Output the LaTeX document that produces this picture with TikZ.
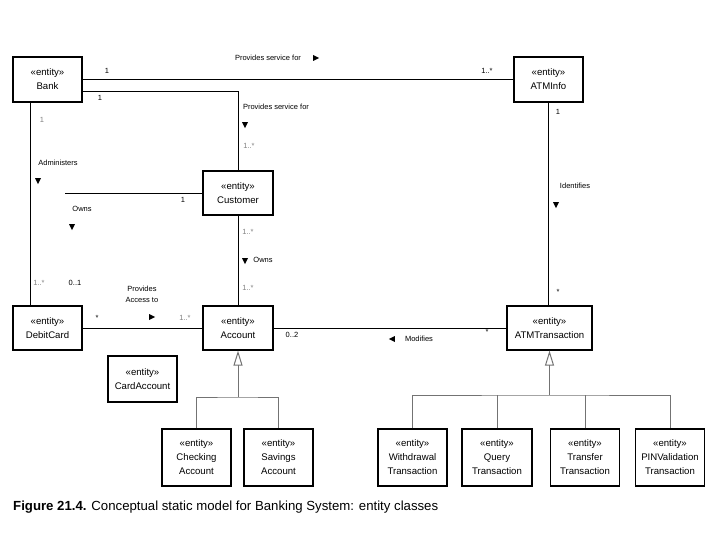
\documentclass[tikz,border=0pt]{standalone}
\usepackage{fontspec}
\setmainfont{Liberation Sans}
\usepackage{tikz}
\usetikzlibrary{shapes.geometric, arrows.meta}
\tikzstyle{entity} = [rectangle, draw=black, line width=1.2pt, minimum width=69pt, minimum height=45pt, inner sep=1pt, align=center, font=\fontsize{9.6}{14}\selectfont]
\tikzstyle{subentity} = [entity, minimum height=57pt]
\tikzstyle{assoc} = [line width=0.8pt]
\tikzstyle{gen} = [line width=1pt, draw=black!55]
\tikzstyle{gentip} = [-{Triangle[open,length=15pt,width=9pt]}]
\tikzstyle{lbl} = [inner sep=0pt, font=\fontsize{7.5}{11}\selectfont, align=center]
\tikzstyle{faint} = [lbl, text=black!50]
\tikzstyle{dirmark} = [isosceles triangle, isosceles triangle stretches, fill=black, inner sep=0pt, minimum height=6pt, minimum width=6pt]

\begin{document}
\begin{tikzpicture}[x=1pt, y=-1pt]
	\useasboundingbox (0,0) rectangle (720,540);

	% entity classes
	\node (bank) [entity] at (47.5,79.5) {«entity»\\Bank};
	\node (atminfo) [entity] at (548.5,79.5) {«entity»\\ATMInfo};
	\node (customer) [entity, minimum width=70pt, minimum height=44pt] at (238,193) {«entity»\\Customer};
	\node (debitcard) [entity, minimum height=44pt] at (47.5,328) {«entity»\\DebitCard};
	\node (account) [entity, minimum width=70pt, minimum height=44pt] at (238,328) {«entity»\\Account};
	\node (atmtrans) [entity, minimum width=85pt, minimum height=44pt] at (549.5,328) {«entity»\\ATMTransaction};
	\node (cardaccount) [entity, minimum height=46pt] at (142.5,379) {«entity»\\CardAccount};

	\node (checking) [subentity] at (196.5,457.5) {«entity»\\Checking\\Account};
	\node (savings) [subentity] at (278.5,457.5) {«entity»\\Savings\\Account};
	\node (withdrawal) [subentity] at (412.5,457.5) {«entity»\\Withdrawal\\Transaction};
	\node (query) [subentity, minimum width=70pt] at (497,457.5) {«entity»\\Query\\Transaction};
	\node (transfer) [subentity] at (585,457.5) {«entity»\\Transfer\\Transaction};
	\node (pinvalid) [subentity] at (670,457.5) {«entity»\\PINValidation\\Transaction};

	% associations
	\coordinate (ownsend) at (65,193);
	\draw [assoc] (bank) -- (atminfo);
	\draw [assoc] ([yshift=-11.5pt]bank.east) -| (customer);
	\draw [assoc] ([xshift=-17.5pt]bank.south) -- ([xshift=-17.5pt]debitcard.north);
	\draw [assoc] (customer) -- (ownsend);
	\draw [assoc] (customer) -- (account);
	\draw [assoc] (debitcard) -- (account);
	\draw [assoc] (account) -- (atmtrans);
	\draw [assoc] (atminfo) -- (atminfo |- atmtrans.north);

	% generalisations
	\coordinate (accjoin) at (238,397);
	\coordinate (trjoin) at (549.5,395);
	\draw [gen] (checking) |- (accjoin) -| (savings);
	\draw [gen, gentip] (accjoin) -- (account);
	\draw [gen] (withdrawal) |- (trjoin) -| (pinvalid);
	\draw [gen] (query) -- (query |- trjoin);
	\draw [gen] (transfer) -- (transfer |- trjoin);
	\draw [gen, gentip] (trjoin) -- (atmtrans);

	% association names and multiplicities
	\node (svcatm) [lbl] at (268,58) {Provides service for};
	\node (svcatmdir) [dirmark] at (315,58) {};
	\node (mbank1) [lbl] at (107,71) {1};
	\node (matm1) [lbl] at (487,71) {1..*};
	\node (mbank2) [lbl] at (100,98) {1};
	\node (svccust) [lbl] at (276,107) {Provides service for};
	\node (svccustdir) [dirmark, shape border rotate=-90] at (245,124) {};
	\node (mcust1) [faint] at (249,146) {1..*};
	\node (mbank3) [faint] at (42,120) {1};
	\node (admin) [lbl] at (58,163) {Administers};
	\node (admindir) [dirmark, shape border rotate=-90] at (38,180) {};
	\node (mcust2) [lbl] at (183,200) {1};
	\node (owncard) [lbl] at (82,209) {Owns};
	\node (owncarddir) [dirmark, shape border rotate=-90] at (72,226) {};
	\node (mcust3) [faint] at (248,232) {1..*};
	\node (ownacc) [lbl] at (263,260) {Owns};
	\node (ownaccdir) [dirmark, shape border rotate=-90] at (245,260) {};
	\node (macc1) [faint] at (248,288) {1..*};
	\node (mcard1) [faint] at (39,283) {1..*};
	\node (mcard2) [lbl] at (75,283) {0..1};
	\node (access) [lbl] at (142,294) {Provides\\Access to};
	\node (accessdir) [dirmark] at (151,317) {};
	\node (mcard3) [lbl] at (97,318) {*};
	\node (macc2) [faint] at (185,318) {1..*};
	\node (macc3) [lbl] at (292,335) {0..2};
	\node (modif) [lbl] at (419,339) {Modifies};
	\node (modifdir) [dirmark, shape border rotate=180] at (393,339) {};
	\node (mtrans1) [lbl] at (487,332) {*};
	\node (matm2) [lbl] at (558,112) {1};
	\node (ident) [lbl] at (575,186) {Identifies};
	\node (identdir) [dirmark, shape border rotate=-90] at (556,204) {};
	\node (mtrans2) [lbl] at (558,292) {*};

	% caption
	\node (caption) [anchor=west, inner sep=0pt, font=\fontsize{13.2}{15}\selectfont] at (13,507) {\textbf{Figure 21.4.} Conceptual static model for Banking System: entity classes};
\end{tikzpicture}
\end{document}
